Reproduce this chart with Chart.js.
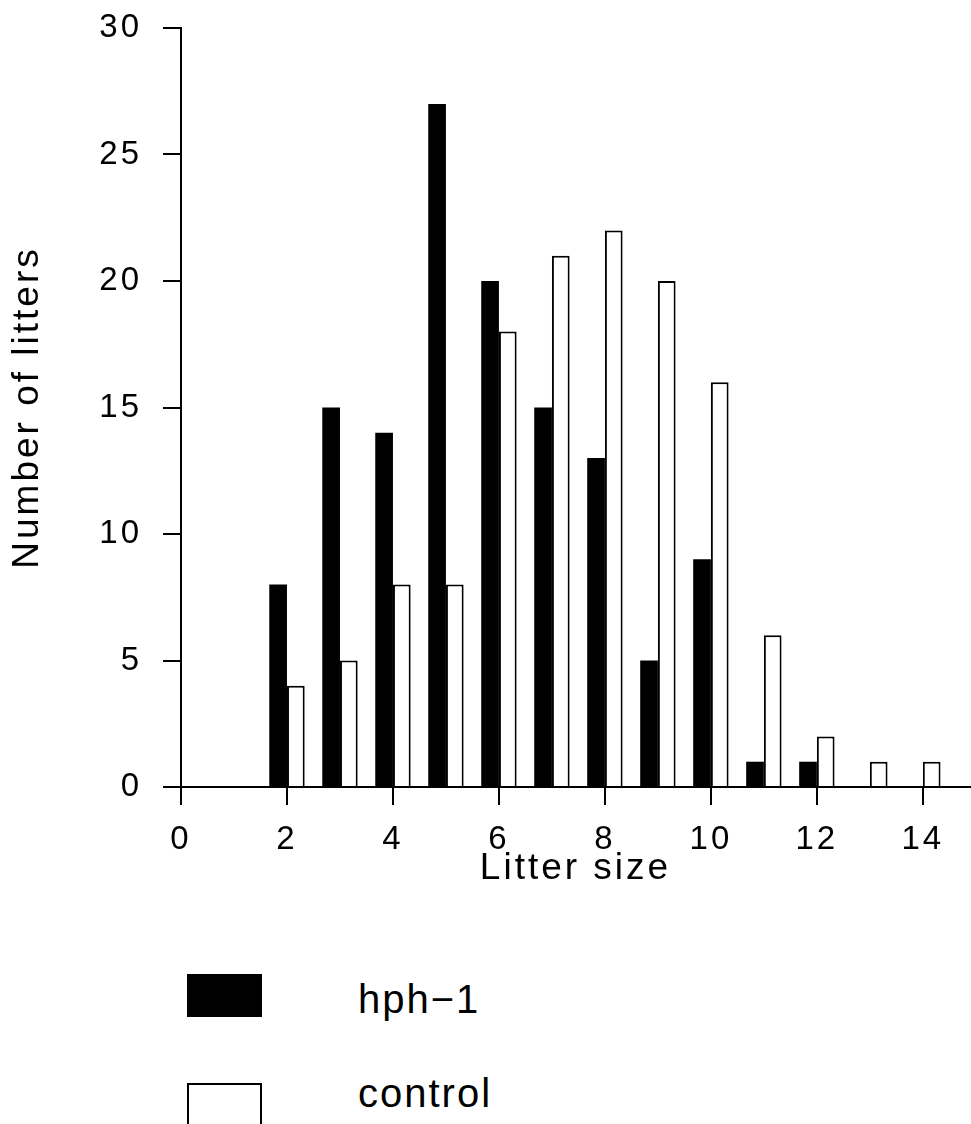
<!DOCTYPE html>
<html>
<head>
<meta charset="utf-8">
<script src="https://cdn.jsdelivr.net/npm/chart.js@4.4.1/dist/chart.umd.min.js"></script>
<style>
  html, body { margin: 0; padding: 0; background: #fff; overflow: hidden; }
  body { width: 971px; height: 1124px; position: relative; font-family: "Liberation Sans", sans-serif; }
  #wrap { position: absolute; left: 0; top: 0; width: 971px; height: 900px; }
  .key-box { position: absolute; left: 187px; width: 75px; box-sizing: border-box; }
  .key-label { position: absolute; left: 358px; font-size: 40px; line-height: 40px; letter-spacing: 2px; color: #000; white-space: nowrap; }
</style>
</head>
<body>
<div id="wrap"><canvas id="chart" width="971" height="900"></canvas></div>

<div class="key-box" style="top:974px;height:43px;background:#000;"></div>
<div class="key-label" style="top:979px;">hph−1</div>
<div class="key-box" style="top:1083px;height:60px;border:2px solid #000;background:#fff;"></div>
<div class="key-label" style="top:1073px;">control</div>

<script>
// litter size categories and counts per group
const litterSizes = [2, 3, 4, 5, 6, 7, 8, 9, 10, 11, 12, 13, 14];
const hphCounts = [8, 15, 14, 27, 20, 15, 13, 5, 9, 1, 1, 0, 0];
const controlCounts = [4, 5, 8, 8, 18, 21, 22, 20, 16, 6, 2, 1, 1];
const xTicks = [0, 2, 4, 6, 8, 10, 12, 14];
const yTicks = [0, 5, 10, 15, 20, 25, 30];

const toPoints = (vals) => litterSizes.map((x, i) => ({ x: x, y: vals[i] }));

const tickFont = { family: 'Liberation Sans', size: 33 };
const titleFont = { family: 'Liberation Sans', size: 37 };

// the original type is set quite loose
const spacingPlugin = {
  id: 'spacing',
  beforeInit(chart) { chart.ctx.letterSpacing = '3px'; },
  beforeDraw(chart) { chart.ctx.letterSpacing = '3px'; }
};

new Chart(document.getElementById('chart'), {
  type: 'bar',
  data: {
    datasets: [
      { label: 'hph−1', data: toPoints(hphCounts), backgroundColor: '#000', borderWidth: 0 },
      { label: 'control', data: toPoints(controlCounts), backgroundColor: '#fff', borderColor: '#000', borderWidth: 2 }
    ]
  },
  options: {
    responsive: false,
    animation: false,
    events: [],
    categoryPercentage: 0.668,
    barPercentage: 1.0,
    layout: { padding: { top: 28, right: 1, left: 0, bottom: 0 } },
    plugins: { legend: { display: false }, tooltip: { enabled: false } },
    scales: {
      x: {
        type: 'linear',
        offset: false,
        min: 0,
        max: 14.89,
        afterBuildTicks(scale) { scale.ticks = xTicks.map(v => ({ value: v })); },
        afterFit(scale) { scale.height = 900 - 787; },
        grid: { offset: false, drawOnChartArea: false, drawTicks: true, tickLength: 18, color: '#000', lineWidth: 2 },
        border: { display: true, color: '#000', width: 2 },
        ticks: { color: '#000', font: tickFont, padding: 15, maxRotation: 0, autoSkip: false },
        title: { display: true, text: 'Litter size', color: '#000', font: titleFont, padding: { top: 0, bottom: 9 } }
      },
      y: {
        min: 0,
        max: 30,
        afterBuildTicks(scale) { scale.ticks = yTicks.map(v => ({ value: v })); },
        afterFit(scale) { scale.width = 181; scale.paddingTop = 0; scale.paddingBottom = 0; },
        grid: { drawOnChartArea: false, drawTicks: true, tickLength: 18, color: '#000', lineWidth: 2 },
        border: { display: true, color: '#000', width: 2 },
        ticks: { color: '#000', font: tickFont, padding: 21 },
        title: { display: true, text: 'Number of litters', color: '#000', font: titleFont, padding: { top: 6, bottom: 0 } }
      }
    }
  },
  plugins: [spacingPlugin]
});
</script>
</body>
</html>
